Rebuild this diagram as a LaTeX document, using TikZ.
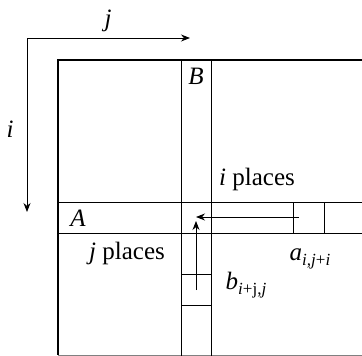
\documentclass[tikz,border=0pt]{standalone}
\usepackage{fontspec}
\setmainfont{Liberation Serif}
\usetikzlibrary{arrows.meta,positioning}

\newcommand{\subfont}{\fontsize{17}{19}\selectfont}

\begin{document}
\begin{tikzpicture}[x=1pt, y=-1pt, font=\fontsize{25}{28}\selectfont,
		thin line/.style={line width=0.9pt},
		bold line/.style={line width=2pt},
		move/.style={thin line, -{Stealth[length=9pt,width=7pt]}},
		lbl/.style={inner sep=0pt}]
	\useasboundingbox (0,0) rectangle (362,356);
	\clip (0,0) rectangle (362,356);
	% index axes
	\coordinate (O) at (27,38);
	\coordinate (Iend) at (27,212);
	\coordinate (Jend) at (190,38);
	\draw[move] (O) -- (Iend);
	\draw[move] (O) -- (Jend);
	\node[lbl] (jlab) at (108,21) {\textit{j}};
	\node[lbl] (ilab) at (10,129) {\textit{i}};
	% the matrix
	\draw[thin line, gray] (58,355) -- (362,355);
	\draw[bold line] (362,60) -- (58,60) -- (58,355);
	\draw[thin line] (181,60) -- (181,356);
	\draw[thin line] (211,60) -- (211,356);
	\draw[thin line] (58,202) -- (362,202);
	\draw[thin line] (58,233) -- (362,233);
	% moving elements
	\draw[thin line] (293,202) -- (293,233);
	\draw[thin line] (324,202) -- (324,233);
	\draw[thin line] (181,274) -- (211,274);
	\draw[thin line] (181,305) -- (211,305);
	\node[lbl] (Blab) at (196,76) {\textit{B}};
	\node[lbl] (Alab) at (78,218) {\textit{A}};
	\coordinate (a0) at (299,217);
	\coordinate (a1) at (196,217);
	\coordinate (b0) at (196,290);
	\coordinate (b1) at (196,221);
	\draw[move] (a0) -- (a1);
	\draw[move] (b0) -- (b1);
	\node[lbl] (iplaces) at (257,179) {\textit{i} places};
	\node[lbl] (jplaces) at (127,253) {\textit{j} places};
	\node[lbl] (alab) at (310,259) {\textit{a}\raisebox{-0.4ex}{\subfont\textit{i,j}+\textit{i}}};
	\node[lbl] (blab) at (246,285) {\textit{b}\raisebox{-0.4ex}{\subfont\textit{i}+j,\textit{j}}};
\end{tikzpicture}
\end{document}
